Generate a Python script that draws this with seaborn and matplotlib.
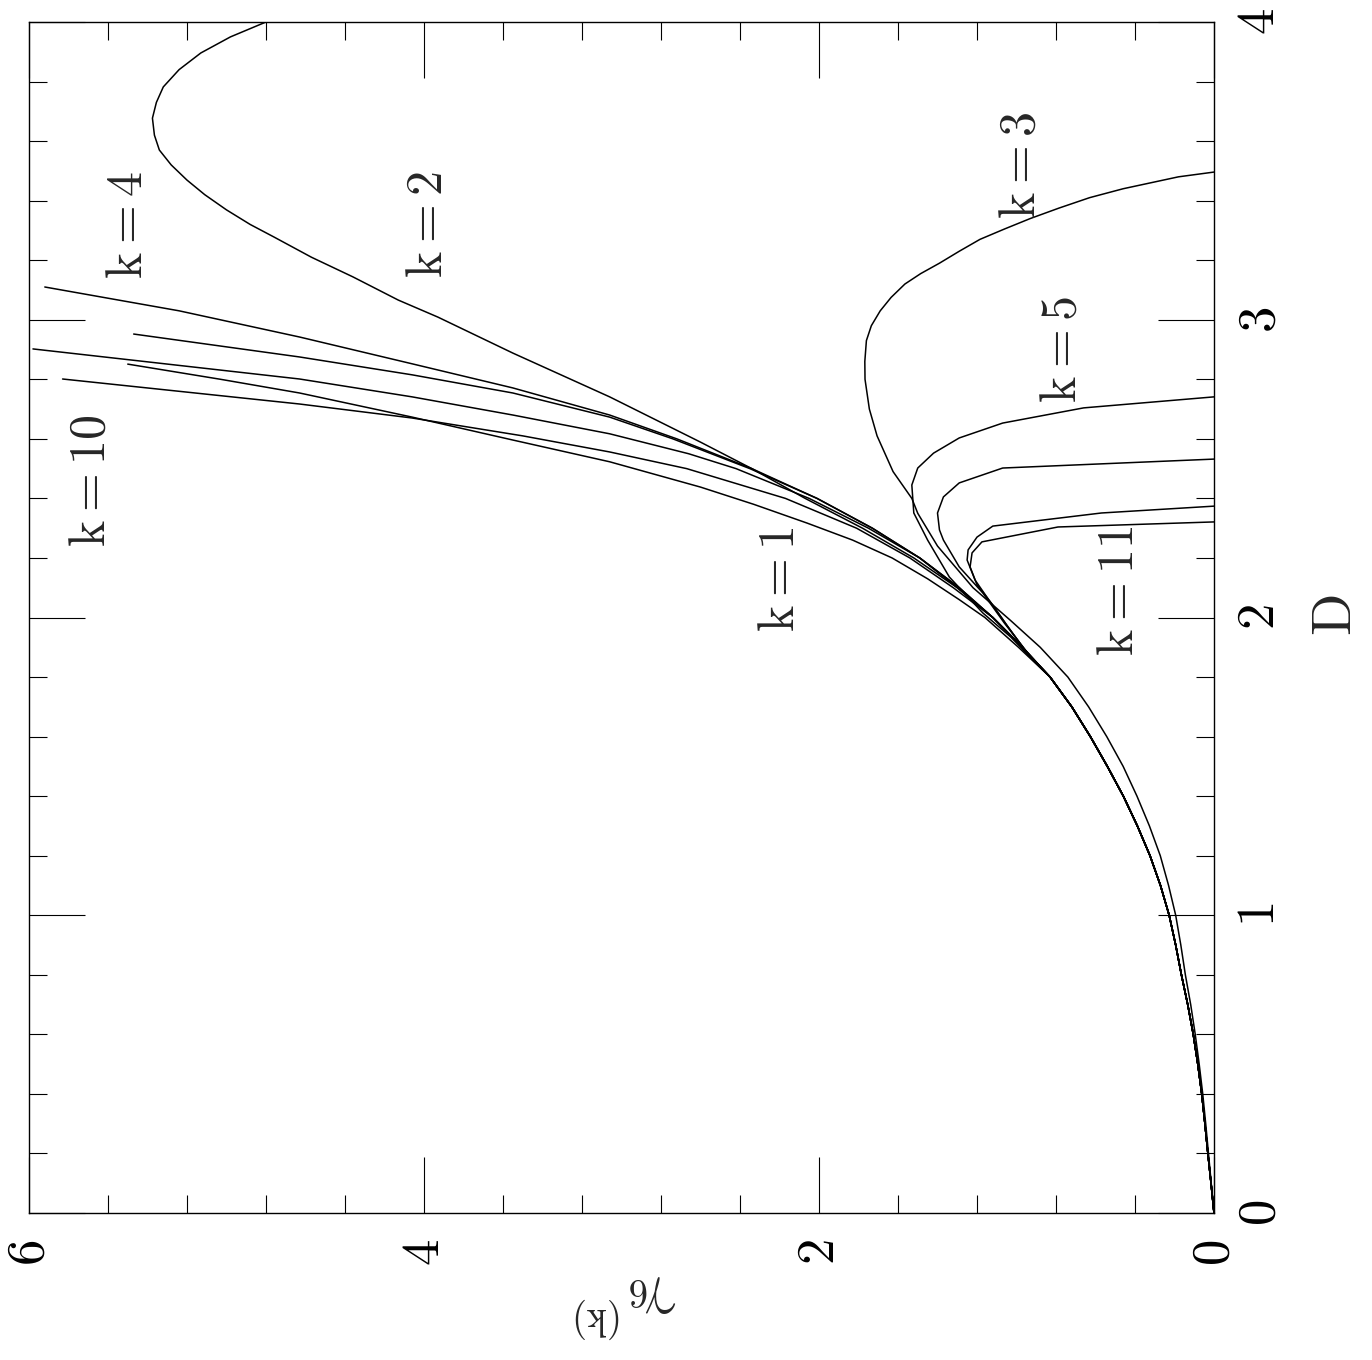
import matplotlib
matplotlib.use("Agg")
import matplotlib.pyplot as plt
from matplotlib.ticker import MultipleLocator
import pandas as pd
import seaborn as sns

#%% data (D on one axis, gamma_6^(k) on the other)

# low-D part, all curves lie on top of each other there
D_BASE = [0.0, 0.1, 0.2, 0.3, 0.4, 0.5, 0.6, 0.7, 0.8, 0.9, 1.0, 1.1, 1.2, 1.3, 1.4,
          1.5, 1.6, 1.7, 1.8]
G_BASE = [0.0, 0.015, 0.031, 0.046, 0.062, 0.082, 0.105, 0.133, 0.165, 0.194, 0.227,
          0.271, 0.324, 0.388, 0.459, 0.54, 0.626, 0.72, 0.83]
G_BASE_K3 = [0.0, 0.014, 0.028, 0.042, 0.057, 0.075, 0.095, 0.118, 0.145, 0.168, 0.194,
             0.23, 0.272, 0.327, 0.39, 0.46, 0.543, 0.635, 0.74]

# k = 1, 2, 4, 6, 8, 10 bend up to large gamma
K1_D = [1.85, 1.9, 2.0, 2.06, 2.13, 2.2, 2.26, 2.317, 2.38, 2.438, 2.523, 2.596, 2.673,
        2.754, 2.80, 2.851]
K1_G = [0.91, 0.99, 1.16, 1.29, 1.45, 1.63, 1.83, 2.06, 2.33, 2.60, 3.06, 3.55, 4.06,
        4.63, 5.03, 5.50]

K2_D = [1.85, 1.9, 2.0, 2.1, 2.2, 2.3, 2.4, 2.5, 2.589, 2.741, 2.798, 2.888, 3.009,
        3.066, 3.144, 3.21, 3.278, 3.32, 3.369, 3.42, 3.469, 3.52, 3.570, 3.62, 3.677,
        3.73, 3.782, 3.84, 3.896, 3.95, 4.0]
K2_G = [0.90, 0.97, 1.12, 1.30, 1.52, 1.78, 2.07, 2.34, 2.60, 3.06, 3.25, 3.55, 3.93,
        4.13, 4.36, 4.57, 4.76, 4.88, 5.00, 5.11, 5.20, 5.28, 5.34, 5.365, 5.375,
        5.355, 5.32, 5.24, 5.13, 4.98, 4.80]

K4_D = [1.85, 1.9, 2.0, 2.1, 2.2, 2.3, 2.4, 2.5, 2.6, 2.68, 2.771, 2.852, 2.942, 3.03,
        3.110]
K4_G = [0.90, 0.97, 1.12, 1.29, 1.49, 1.73, 2.01, 2.34, 2.72, 3.06, 3.55, 4.06, 4.63,
        5.24, 5.92]

K6_D = [1.85, 1.9, 2.0, 2.1, 2.2, 2.3, 2.4, 2.5, 2.6, 2.673, 2.754, 2.815, 2.875, 2.952]
K6_G = [0.90, 0.97, 1.12, 1.29, 1.49, 1.73, 2.01, 2.35, 2.74, 3.06, 3.55, 4.06, 4.63,
        5.47]

K8_D = [1.85, 1.9, 2.0, 2.1, 2.2, 2.3, 2.4, 2.5, 2.55, 2.617, 2.68, 2.741, 2.801, 2.902]
K8_G = [0.90, 0.97, 1.12, 1.30, 1.49, 1.75, 2.05, 2.42, 2.66, 3.06, 3.55, 4.06, 4.63,
        5.98]

K10_D = [1.85, 1.9, 2.0, 2.1, 2.2, 2.3, 2.4, 2.5, 2.556, 2.61, 2.67, 2.717, 2.801]
K10_G = [0.90, 0.97, 1.12, 1.32, 1.54, 1.81, 2.17, 2.67, 3.06, 3.50, 4.06, 4.63, 5.83]

# k = 3, 5, 7, 9, 11 turn over and drop back to zero
K3_D = [1.85, 1.90, 1.99, 2.10, 2.24, 2.35, 2.40, 2.49, 2.61, 2.70, 2.80, 2.86, 2.93,
        2.98, 3.03, 3.075, 3.12, 3.155, 3.19, 3.23, 3.27, 3.305, 3.34, 3.375, 3.41,
        3.44, 3.46, 3.48, 3.496]
K3_G = [0.81, 0.88, 1.03, 1.22, 1.40, 1.50, 1.53, 1.625, 1.706, 1.745, 1.767, 1.768,
        1.76, 1.735, 1.69, 1.635, 1.565, 1.485, 1.39, 1.29, 1.185, 1.06, 0.93, 0.785,
        0.63, 0.46, 0.32, 0.18, 0.0]

K5_D = [1.87, 1.935, 2.015, 2.136, 2.26, 2.351, 2.445, 2.502, 2.552, 2.603, 2.653,
        2.704, 2.741]
K5_G = [0.935, 1.03, 1.17, 1.34, 1.45, 1.52, 1.53, 1.50, 1.42, 1.29, 1.07, 0.66, 0.0]

K7_D = [1.87, 1.98, 2.082, 2.17, 2.26, 2.294, 2.351, 2.405, 2.452, 2.502, 2.532]
K7_G = [0.93, 1.06, 1.17, 1.29, 1.37, 1.39, 1.40, 1.37, 1.29, 1.07, 0.0]

K9_D = [1.87, 1.975, 2.059, 2.126, 2.193, 2.227, 2.27, 2.307, 2.351, 2.374]
K9_G = [0.935, 1.05, 1.14, 1.21, 1.25, 1.245, 1.20, 1.12, 0.57, 0.0]

K11_D = [1.87, 1.975, 2.042, 2.11, 2.17, 2.217, 2.254, 2.304, 2.321]
K11_G = [0.935, 1.05, 1.12, 1.20, 1.235, 1.225, 1.175, 0.79, 0.0]

LABELS = ['k = 4', 'k = 2', 'k = 3', 'k = 5', 'k = 10', 'k = 1', 'k = 11']
LABEL_G = [5.50, 3.98, 0.98, 0.77, 5.69, 2.20, 0.48]
LABEL_D = [3.32, 3.32, 3.52, 2.90, 2.46, 2.13, 2.09]

G_TICKS = [0, 2, 4, 6]
D_TICKS = [0, 1, 2, 3, 4]

#%% build one long table

curves = {
    1: (G_BASE, K1_D, K1_G), 2: (G_BASE, K2_D, K2_G), 3: (G_BASE_K3, K3_D, K3_G),
    4: (G_BASE, K4_D, K4_G), 5: (G_BASE, K5_D, K5_G), 6: (G_BASE, K6_D, K6_G),
    7: (G_BASE, K7_D, K7_G), 8: (G_BASE, K8_D, K8_G), 9: (G_BASE, K9_D, K9_G),
    10: (G_BASE, K10_D, K10_G), 11: (G_BASE, K11_D, K11_G),
}
frames = []
for k, (gb, dt, gt) in curves.items():
    frames.append(pd.DataFrame({'D': D_BASE + dt, 'gamma': gb + gt, 'k': k}))
df = pd.concat(frames, ignore_index=True)

#%% plot (page is turned: D runs up, gamma runs right to left)

sns.set_style("white")
plt.rcParams['mathtext.fontset'] = 'cm'
plt.rcParams['axes.linewidth'] = 1.0

W, H = 1372, 1360
fig = plt.figure(figsize=(W / 100, H / 100), dpi=100)
ax = fig.add_axes([29 / W, (H - 1213) / H, (1214 - 29) / W, (1213 - 22) / H])

sns.lineplot(data=df, x='gamma', y='D', units='k', estimator=None, sort=False,
             color='black', lw=1.1, legend=False, ax=ax)

ax.set_xlim(6, 0)
ax.set_ylim(0, 4)

ax.set_xticks(G_TICKS)
ax.set_xticklabels([r'$\mathrm{%d}$' % t for t in G_TICKS], rotation=90, fontsize=38)
ax.set_yticks(D_TICKS)
ax.set_yticklabels([r'$\mathrm{%d}$' % t for t in D_TICKS], rotation=90, fontsize=38,
                   va='center')
ax.xaxis.set_minor_locator(MultipleLocator(0.4))
ax.yaxis.set_minor_locator(MultipleLocator(0.2))
ax.tick_params(which='both', direction='in', top=True, bottom=True, left=True, right=True,
               labelleft=False, labelright=True, labelbottom=True, colors='black')
ax.tick_params(which='major', length=40, width=0.8)
ax.tick_params(which='minor', length=13, width=0.8)
ax.tick_params(axis='x', which='major', pad=19)
ax.tick_params(axis='y', which='major', pad=14)
for s in ax.spines.values():
    s.set_color('black')

ax.set_xlabel(r'$\gamma_6{}^{(\mathrm{k})}$', fontsize=40, rotation=180)
ax.xaxis.set_label_coords((625 - 29) / 1185, (1213 - 1305) / 1191)
ax.xaxis.label.set_va('center')
ax.xaxis.label.set_ha('center')

ax.yaxis.set_label_position('right')
ax.set_ylabel(r'$\mathrm{D}$', fontsize=40, rotation=90)
ax.yaxis.set_label_coords((1336 - 29) / 1185, (1213 - 615) / 1191)
ax.yaxis.label.set_va('center')
ax.yaxis.label.set_ha('center')

for txt, g, d in zip(LABELS, LABEL_G, LABEL_D):
    ax.text(g, d, r'$\mathrm{%s}$' % txt.replace(' ', ''), fontsize=36, rotation=90,
            ha='center', va='center')

fig.savefig('out.png', dpi=100)
